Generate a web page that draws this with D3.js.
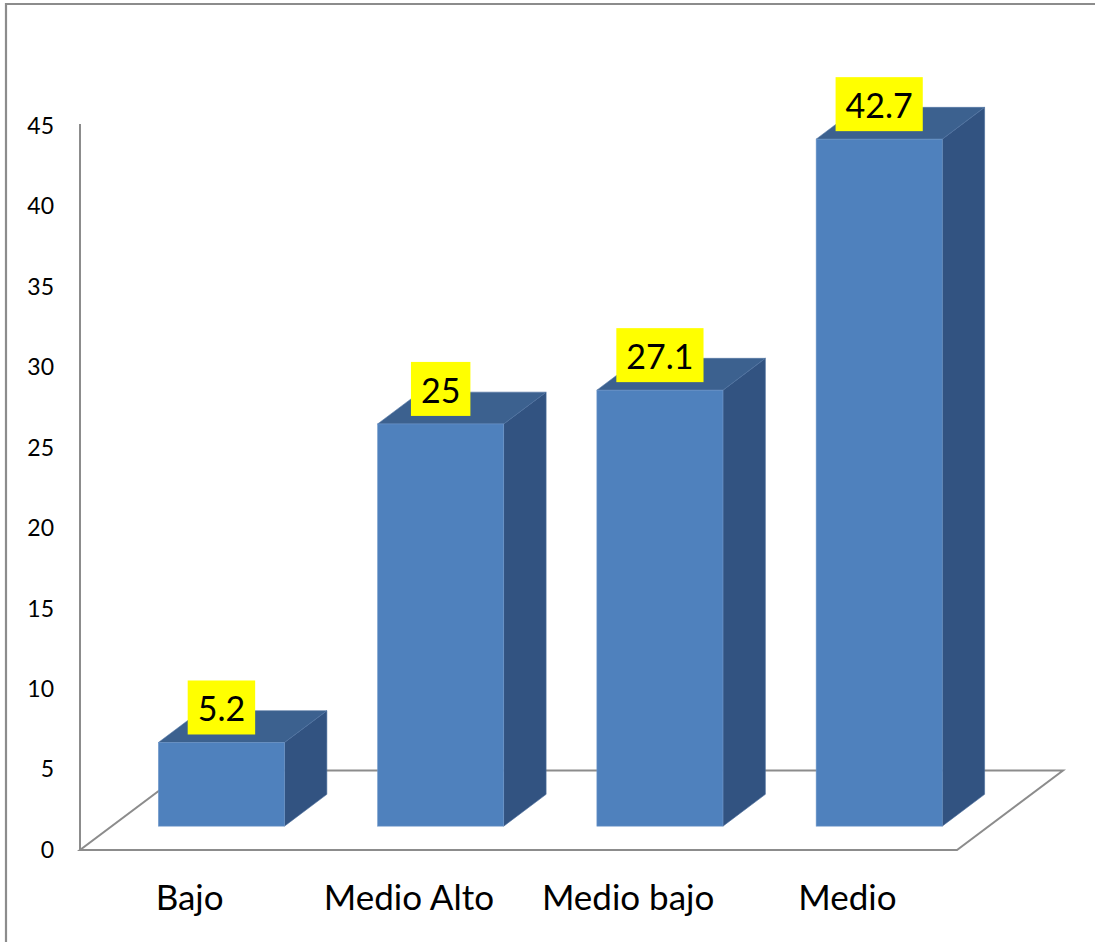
<!DOCTYPE html>
<html>
<head>
<meta charset="utf-8">
<script src="https://cdn.jsdelivr.net/npm/d3@7"></script>
<style>
  html, body { margin: 0; padding: 0; background: #fff; }
  svg { display: block; font-family: Lato, "Open Sans", sans-serif; }
</style>
</head>
<body>
<svg id="chart" width="1095" height="942"></svg>
<script>
const categories = ["Bajo", "Medio Alto", "Medio bajo", "Medio"];
const values = [5.2, 25, 27.1, 42.7];
const valueLabels = ["5.2", "25", "27.1", "42.7"];
const yTicks = [0, 5, 10, 15, 20, 25, 30, 35, 40, 45];

const svg = d3.select("#chart");
const W = 1095, H = 942;

// outer frame (top + left)
svg.append("path")
  .attr("d", `M6,${H} L6,4 L${W},4`)
  .attr("fill", "none").attr("stroke", "#8c8c8c").attr("stroke-width", 2.2);

const x0 = 80, x1 = 957;        // front floor edge
const yBase = 850, yTop = 126;  // axis range
const depth = { dx: 106, dy: -79.5 }; // floor depth vector

const x = d3.scaleBand().domain(categories).range([x0, x1]).paddingInner(0).paddingOuter(0);
const y = d3.scaleLinear().domain([0, 45]).range([yBase, yTop]);

// floor
const floor = [
  [x0, yBase], [x1, yBase], [x1 + depth.dx, yBase + depth.dy], [x0 + depth.dx, yBase + depth.dy]
];
svg.append("path")
  .attr("d", d3.line()(floor) + "Z")
  .attr("fill", "none").attr("stroke", "#8c8c8c").attr("stroke-width", 2);

// y axis
const yAxis = d3.axisLeft(y).tickValues(yTicks).tickSize(0).tickSizeOuter(0).tickPadding(26);
const gy = svg.append("g").attr("transform", `translate(${x0},0)`).call(yAxis);
gy.select(".domain").attr("stroke", "#8c8c8c").attr("stroke-width", 2)
  .attr("d", `M0,${yTop - 2}V${yBase}`);
gy.selectAll("text").attr("font-size", 23).attr("fill", "#000")
  .attr("font-family", "Lato, sans-serif");

// bars
const frontT = 0.3, backT = 0.7;
const barW = x.bandwidth() * 0.575;
const fdx = depth.dx * frontT, fdy = depth.dy * frontT;
const bdx = depth.dx * (backT - frontT), bdy = depth.dy * (backT - frontT);

const data = categories.map((c, i) => ({ c, v: values[i], label: valueLabels[i] }));

const bars = svg.append("g").selectAll("g.bar").data(data).join("g").attr("class", "bar");

bars.each(function (d) {
  const g = d3.select(this);
  const cx = x(d.c) + x.bandwidth() / 2 + fdx;
  const left = cx - barW / 2, right = cx + barW / 2;
  const bot = y(0) + fdy, top = y(d.v) + fdy;
  // side face
  g.append("path")
    .attr("d", d3.line()([[right, top], [right + bdx, top + bdy], [right + bdx, bot + bdy], [right, bot]]) + "Z")
    .attr("fill", "#325381").attr("stroke", "#4a6c9a").attr("stroke-width", 0.6);
  // top face
  g.append("path")
    .attr("d", d3.line()([[left, top], [left + bdx, top + bdy], [right + bdx, top + bdy], [right, top]]) + "Z")
    .attr("fill", "#3c618f").attr("stroke", "#5074a3").attr("stroke-width", 0.6);
  // front face
  g.append("rect")
    .attr("x", left).attr("y", top).attr("width", barW).attr("height", bot - top)
    .attr("fill", "#4f81bd").attr("stroke", "#6f97c9").attr("stroke-width", 0.6);

  // value label
  const lbl = g.append("g");
  const t = lbl.append("text")
    .attr("x", cx).attr("y", top - 21)
    .attr("text-anchor", "middle")
    .attr("font-size", 34).attr("fill", "#000")
    .text(d.label);
  const tw = t.node().getComputedTextLength();
  lbl.insert("rect", "text")
    .attr("x", cx - tw / 2 - 10).attr("y", top - 62)
    .attr("width", tw + 20).attr("height", 54)
    .attr("fill", "#ffff00");
});

// category labels
svg.append("g").selectAll("text").data(categories).join("text")
  .attr("x", d => x(d) + x.bandwidth() / 2)
  .attr("y", 910)
  .attr("text-anchor", "middle")
  .attr("font-size", 35).attr("fill", "#000")
  .text(d => d);
</script>
</body>
</html>
